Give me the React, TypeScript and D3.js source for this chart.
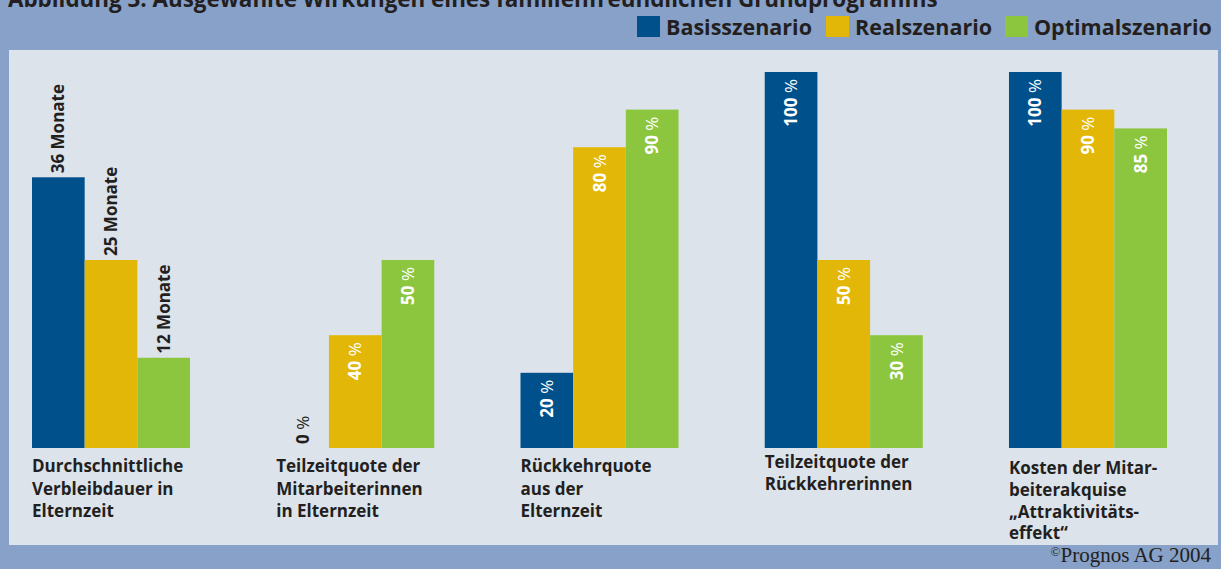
import React from 'react';
import * as d3 from 'd3';

const title = 'Abbildung 3: Ausgewählte Wirkungen eines familienfreundlichen Grundprogramms';
const seriesNames = ['Basisszenario', 'Realszenario', 'Optimalszenario'];
const categories: string[][] = [
  ['Durchschnittliche', 'Verbleibdauer in', 'Elternzeit'],
  ['Teilzeitquote der', 'Mitarbeiterinnen', 'in Elternzeit'],
  ['Rückkehrquote', 'aus der', 'Elternzeit'],
  ['Teilzeitquote der', 'Rückkehrerinnen'],
  ['Kosten der Mitar-', 'beiterakquise', '„Attraktivitäts-', 'effekt“'],
];
// scale maximum per category (months vs. percent)
const categoryMax = [50, 100, 100, 100, 100];
const units = ['Monate', '%', '%', '%', '%'];
// bar heights as drawn in the picture
const basisValues = [36, 0, 20, 100, 100];
const realValues = [25, 30, 80, 50, 90];
const optimalValues = [12, 50, 90, 30, 85];
// printed value labels
const basisLabels = ['36', '0', '20', '100', '100'];
const realLabels = ['25', '40', '80', '50', '90'];
const optimalLabels = ['12', '50', '90', '30', '85'];
const credit = 'Prognos AG 2004';

const COLORS = ['#00508c', '#e2b708', '#8cc63f'];
const OUTER = '#87a1c8';
const PANEL = '#dce3eb';
const TEXT = '#231f20';
const FONT = "'Open Sans', 'Noto Sans', sans-serif";

export default function App() {
  const W = 1221, H = 569;
  const baseY = 448, topY = 72;
  const values = [basisValues, realValues, optimalValues];
  const labels = [basisLabels, realLabels, optimalLabels];

  const xGroup = d3.scaleBand<number>()
    .domain(d3.range(categories.length))
    .range([32, 1167])
    .paddingInner(0.353)
    .paddingOuter(0);
  const xSeries = d3.scaleBand<number>()
    .domain(d3.range(seriesNames.length))
    .range([0, xGroup.bandwidth()])
    .padding(0);
  const yScales = categoryMax.map((m) => d3.scaleLinear().domain([0, m]).range([baseY, topY]));

  const legendX = [637, 826, 1005];
  const labelBase = [472, 472, 472, 468, 474];
  const labelLH = [22.5, 22.5, 22.5, 21.5, 21.8];

  return (
    <svg width={W} height={H} style={{ position: 'absolute', left: 0, top: 0 }} fontFamily={FONT}>
      <rect x={0} y={0} width={W} height={H} fill={OUTER} />
      <rect x={9} y={50} width={1209} height={495} fill={PANEL} />
      <text x={8} y={7} fontSize={22.4} fontWeight={700} fill={TEXT}>{title}</text>

      {seriesNames.map((s, i) => (
        <g key={s}>
          <rect x={legendX[i]} y={16} width={23} height={21} fill={COLORS[i]} />
          <text x={legendX[i] + 29} y={35} fontSize={21.5} fontWeight={700} fill={TEXT}>{s}</text>
        </g>
      ))}

      {categories.map((cat, ci) => {
        const gx = xGroup(ci)!;
        const y = yScales[ci];
        return (
          <g key={ci}>
            {values.map((vals, si) => {
              const v = vals[ci];
              const bx = gx + xSeries(si)!;
              const bw = xSeries.bandwidth();
              const top = y(v);
              const cx = bx + bw / 2;
              const outside = units[ci] !== '%' || v === 0;
              const ay = outside ? top - 4 : top + 7;
              const unit = units[ci];
              return (
                <g key={si}>
                  {v > 0 && <rect x={bx} y={top} width={bw} height={baseY - top} fill={COLORS[si]} />}
                  <text
                    transform={`translate(${cx},${ay}) rotate(-90)`}
                    dy="0.36em"
                    textAnchor={outside ? 'start' : 'end'}
                    fontSize={17}
                    fontWeight={700}
                    fill={outside ? TEXT : '#ffffff'}
                  >
                    {labels[si][ci]}
                    <tspan fontWeight={unit === '%' ? 400 : 700}>{' ' + unit}</tspan>
                  </text>
                </g>
              );
            })}
            <text fontSize={17} fontWeight={700} fill={TEXT}>
              {cat.map((line, li) => (
                <tspan key={li} x={gx} y={labelBase[ci] + li * labelLH[ci]}>{line}</tspan>
              ))}
            </text>
          </g>
        );
      })}

      <text x={1211} y={562} textAnchor="end" fontFamily="'Liberation Serif', serif" fontSize={21} fill={TEXT}>
        <tspan fontSize={13} dy={-6}>©</tspan>
        <tspan dy={6}>{credit}</tspan>
      </text>
    </svg>
  );
}
